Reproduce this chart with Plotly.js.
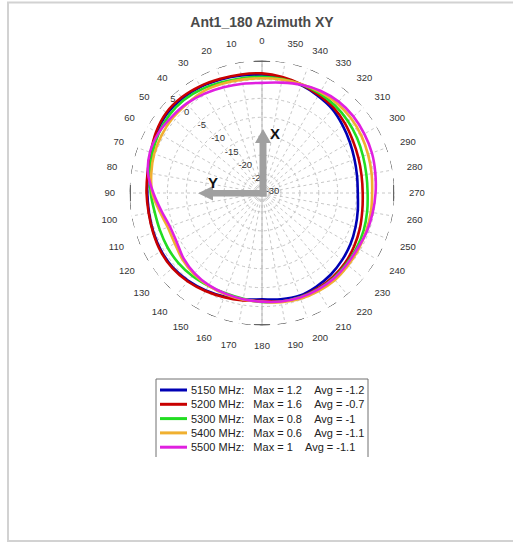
<!DOCTYPE html>
<html>
<head>
<meta charset="utf-8">
<script src="https://cdn.plot.ly/plotly-3.0.1.min.js"></script>
<style>
html,body{margin:0;padding:0;background:#fff;}
#chart{width:513px;height:543px;}
</style>
</head>
<body>
<div id="chart"></div>
<script>
// ---- data ----
const chartTitle = "Ant1_180 Azimuth XY";
const angles = [0,10,20,30,40,50,60,70,80,90,100,110,120,130,140,150,160,170,180,190,200,210,220,230,240,250,260,270,280,290,300,310,320,330,340,350];
const freqs = [5150, 5200, 5300, 5400, 5500];
const maxVals = [1.2, 1.6, 0.8, 0.6, 1];
const avgVals = [-1.2, -0.7, -1, -1.1, -1.1];
const gain5150 = [1.2,1.5,1.9,2.4,2.7,2.7,2.1,1.2,0.6,0.3,0.3,0.5,0.7,0.7,0.3,-0.3,-0.9,-1.5,-1.9,-1.5,-1.1,-1.4,-1.8,-2.4,-3.0,-3.7,-4.3,-4.7,-4.5,-4.0,-3.2,-2.2,-1.1,-0.4,0.3,0.8];
const gain5200 = [1.6,1.8,2.1,2.6,3.0,3.0,2.3,1.3,0.7,0.5,0.4,0.6,0.9,0.9,0.5,-0.1,-0.7,-1.2,-1.5,-0.9,-0.7,-0.8,-0.95,-1.3,-1.9,-2.5,-3.1,-3.4,-3.3,-2.9,-2.3,-1.4,-0.6,-0.1,0.5,1.1];
const gain5300 = [0.7,0.8,1.1,1.7,2.1,2.0,1.5,0.8,0.0,-0.6,-1.2,-1.3,-1.2,-1.2,-1.4,-1.7,-1.8,-1.6,-1.2,-0.9,-0.7,-0.6,-0.65,-0.9,-1.1,-1.4,-1.8,-2.1,-2.0,-1.6,-1.0,-0.4,0.1,0.4,0.5,0.6];
const gain5400 = [0.3,0.4,0.7,1.0,0.8,0.8,0.6,0.3,-0.3,-1.0,-2.5,-3.5,-3.4,-2.6,-2.0,-1.7,-1.5,-1.4,-1.3,-0.7,-0.3,-0.1,0.0,-0.3,-0.5,-0.7,-0.8,-0.9,-0.6,-0.2,0.3,0.7,0.9,0.8,0.6,0.4];
const gain5500 = [-0.9,-0.7,-0.3,0.3,0.9,1.2,1.6,1.5,0.6,-1.3,-3.0,-4.1,-4.0,-3.0,-2.3,-1.9,-1.7,-1.5,-1.3,-0.9,-0.6,-0.5,-0.5,-0.7,-0.8,-0.5,-0.3,0.0,0.4,0.9,1.2,1.5,1.5,1.1,0.4,-0.4];
const gains = [gain5150, gain5200, gain5300, gain5400, gain5500];
const radialTicks = [-30,-25,-20,-15,-10,-5,0,5];

// ---- styles ----
const colors = ['#0000b4', '#c80000', '#22dd22', '#f0b030', '#e020e0'];
const W = 513, H = 543;
const RMIN = radialTicks[0], RMAX = radialTicks[radialTicks.length - 1];
const cx = 262, cy = 193, R = 132.5;
const RAD_ANGLE = 136;
const px = x => x / W;
const py = y => 1 - y / H;
const pathOf = pts => pts.map((p, i) => (i ? 'L' : 'M') + px(p[0]).toFixed(5) + ',' + py(p[1]).toFixed(5)).join(' ') + ' Z';

const traces = [];
// vertical reference line through centre (0 - 180)
traces.push({type:'scatterpolar', theta:[0,180], r:[RMAX,RMAX], mode:'lines',
  line:{color:'#b4b4b4', width:1}, hoverinfo:'skip', showlegend:false});
// data
gains.forEach((g, i) => {
  traces.push({
    type:'scatterpolar', mode:'lines',
    theta: angles.concat([angles[0] + 360]),
    r: g.concat([g[0]]),
    name: freqs[i] + ' MHz',
    line:{color:colors[i], width:2.6, shape:'spline', smoothing:1},
    showlegend:false, hoverinfo:'skip'
  });
});
// outer dashed circle
const circTheta = [], circR = [];
for (let a = 0; a <= 360; a += 1) { circTheta.push(a); circR.push(RMAX); }
traces.push({type:'scatterpolar', theta:circTheta, r:circR, mode:'lines', cliponaxis:false,
  line:{color:'#222', width:1, dash:'dash'}, hoverinfo:'skip', showlegend:false});
// cardinal marks on the outer circle
traces.push({type:'scatterpolar', theta:[-3.5,3.5,null,86.5,93.5,null,176.5,183.5,null,266.5,273.5],
  r:[RMAX,RMAX,null,RMAX,RMAX,null,RMAX,RMAX,null,RMAX,RMAX], mode:'lines', cliponaxis:false,
  line:{color:'#666', width:2.5}, hoverinfo:'skip', showlegend:false});

// ---- decorations ----
const shapes = [];
// frame
shapes.push({type:'rect', xref:'paper', yref:'paper', x0:px(8), x1:px(516), y0:py(541), y1:py(2.5),
  line:{color:'#d2d2d2', width:2}, layer:'below'});
// X arrow (up)
shapes.push({type:'path', xref:'paper', yref:'paper', layer:'above', fillcolor:'#a0a0a0', line:{width:0},
  path: pathOf([[259.5,196.5],[259.5,143],[255,143],[263,129],[271,143],[266.5,143],[266.5,196.5]])});
// Y arrow (left)
shapes.push({type:'path', xref:'paper', yref:'paper', layer:'above', fillcolor:'#a0a0a0', line:{width:0},
  path: pathOf([[266.5,190],[213,190],[213,186],[198,193.3],[213,200.5],[213,196.5],[266.5,196.5]])});
// legend box
shapes.push({type:'path', xref:'paper', yref:'paper', line:{color:'#707070', width:1},
  path: 'M' + px(156) + ',' + py(457) + ' L' + px(156) + ',' + py(379) + ' L' + px(368) + ',' + py(379) + ' L' + px(368) + ',' + py(457)});

const annotations = [
  {text:'<b>X</b>', x:px(275), y:py(133), xref:'paper', yref:'paper', showarrow:false, yanchor:'middle',
   font:{family:'Liberation Sans, Arial', size:15, color:'#111'}},
  {text:'<b>Y</b>', x:px(213), y:py(182), xref:'paper', yref:'paper', showarrow:false, yanchor:'middle',
   font:{family:'Liberation Sans, Arial', size:15, color:'#111'}}
];
const nb = n => '\u00a0'.repeat(n);
const rowY0 = 390, rowDY = 14.3;
freqs.forEach((f, i) => {
  const y = rowY0 + i * rowDY;
  shapes.push({type:'line', xref:'paper', yref:'paper', x0:px(160), x1:px(187), y0:py(y), y1:py(y),
    line:{color:colors[i], width:3}});
  annotations.push({
    text: f + ' MHz:' + nb(3) + 'Max = ' + maxVals[i] + nb(4) + 'Avg = ' + avgVals[i],
    x:px(188.5), y:py(y), xref:'paper', yref:'paper', xanchor:'left', yanchor:'middle', showarrow:false,
    font:{family:'Liberation Sans, Arial', size:11, color:'#222'}
  });
});

const layout = {
  width: W, height: H,
  margin:{l:0, r:0, t:0, b:0},
  paper_bgcolor:'#fff',
  showlegend:false,
  title:{text:'<b>' + chartTitle + '</b>', x:px(262), xref:'paper', xanchor:'center', y:py(22), yref:'paper', yanchor:'middle',
    font:{family:'Liberation Sans, Arial', size:14, color:'#4a4a4a'}},
  polar:{
    domain:{x:[px(cx - R), px(cx + R)], y:[py(cy + R), py(cy - R)]},
    bgcolor:'#fff',
    radialaxis:{range:[RMIN, RMAX], tickvals:radialTicks, ticktext:radialTicks.map(String),
      angle:RAD_ANGLE, tickangle:RAD_ANGLE, side:'clockwise', showline:false, ticks:'', layer:'below traces',
      ticklabelshift:5,
      gridcolor:'#c4c4c4', griddash:'dot', gridwidth:1,
      tickfont:{family:'Liberation Sans, Arial', size:9.5, color:'#333'}},
    angularaxis:{rotation:90, direction:'counterclockwise', tickvals:angles, ticktext:angles.map(String),
      showline:false, ticks:'outside', ticklen:12, tickcolor:'rgba(0,0,0,0)', layer:'below traces',
      gridcolor:'#c8c8c8', griddash:'dot', gridwidth:1,
      tickfont:{family:'Liberation Sans, Arial', size:9.5, color:'#333'}}
  },
  shapes: shapes,
  annotations: annotations
};

Plotly.newPlot('chart', traces, layout, {displayModeBar:false, staticPlot:true});
</script>
</body>
</html>
